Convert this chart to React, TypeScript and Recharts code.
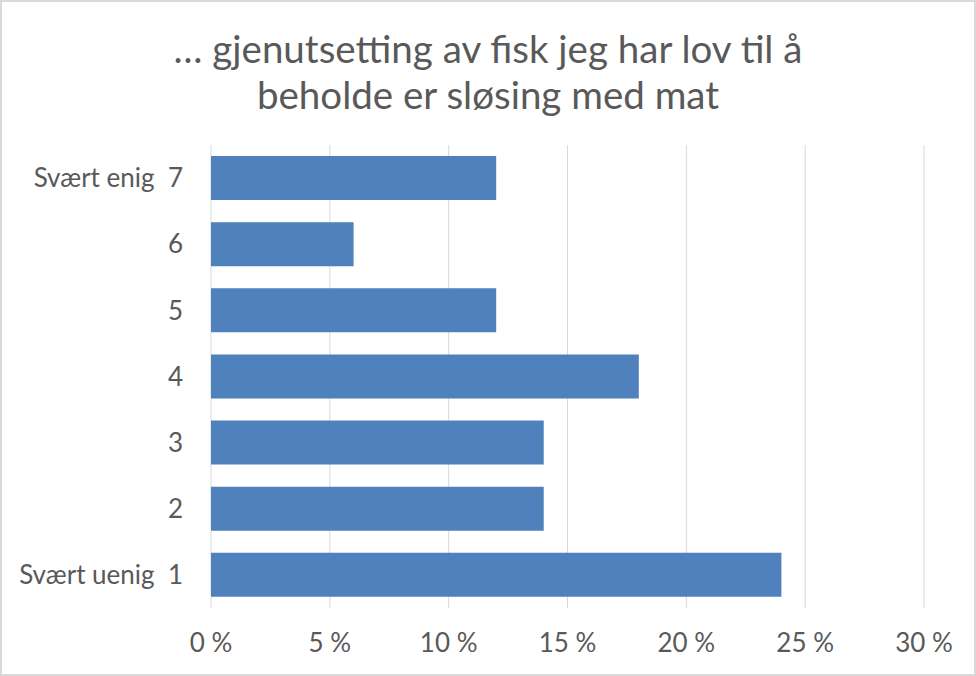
import React from "react";
import { BarChart, Bar, XAxis, YAxis, CartesianGrid } from "recharts";

const categories = ["Svært enig\u00a0 7", "6", "5", "4", "3", "2", "Svært uenig\u00a0 1"];
const shares = [12, 6, 12, 18, 14, 14, 24];
const xTicks = [0, 5, 10, 15, 20, 25, 30];
const titleLines = ["… gjenutsetting av fisk jeg har lov til å", "beholde er sløsing med mat"];

const data = categories.map((label, i) => ({ label, share: shares[i] }));

const FONT = "Lato, 'Open Sans', sans-serif";
const TEXT = "#595959";

const App: React.FC = () => {
  return (
    <div
      style={{
        position: "absolute",
        left: 0,
        top: 0,
        width: 976,
        height: 676,
        boxSizing: "border-box",
        border: "2px solid #d9d9d9",
        background: "#fff",
        fontFamily: FONT,
      }}
    >
      <svg width={976} height={140} style={{ position: "absolute", left: -2, top: -2 }}>
        {titleLines.map((t, i) => (
          <text
            key={i}
            x={488}
            y={63 + i * 46}
            textAnchor="middle"
            fill={TEXT}
            style={{ fontFamily: FONT, fontSize: 38.5 }}
          >
            {t}
          </text>
        ))}
      </svg>
      <div style={{ position: "absolute", left: -2, top: -2 }}>
        <BarChart
          width={976}
          height={676}
          data={data}
          layout="vertical"
          margin={{ top: 145, right: 52, bottom: 0, left: 0 }}
        >
          <CartesianGrid horizontal={false} stroke="#d9d9d9" />
          <XAxis
            type="number"
            domain={[0, 30]}
            ticks={xTicks}
            tickFormatter={(v) => `${v} %`}
            axisLine={false}
            tickLine={false}
            height={68}
            tickMargin={20}
            interval={0}
            tick={{ fill: TEXT, fontSize: 26, fontFamily: FONT }}
          />
          <YAxis
            type="category"
            dataKey="label"
            width={211}
            axisLine={false}
            tickLine={false}
            tickMargin={22}
            interval={0}
            tick={{ fill: TEXT, fontSize: 26, fontFamily: FONT }}
          />
          <Bar dataKey="share" fill="#4f81bd" barSize={44} isAnimationActive={false} />
        </BarChart>
      </div>
    </div>
  );
};

export default App;
